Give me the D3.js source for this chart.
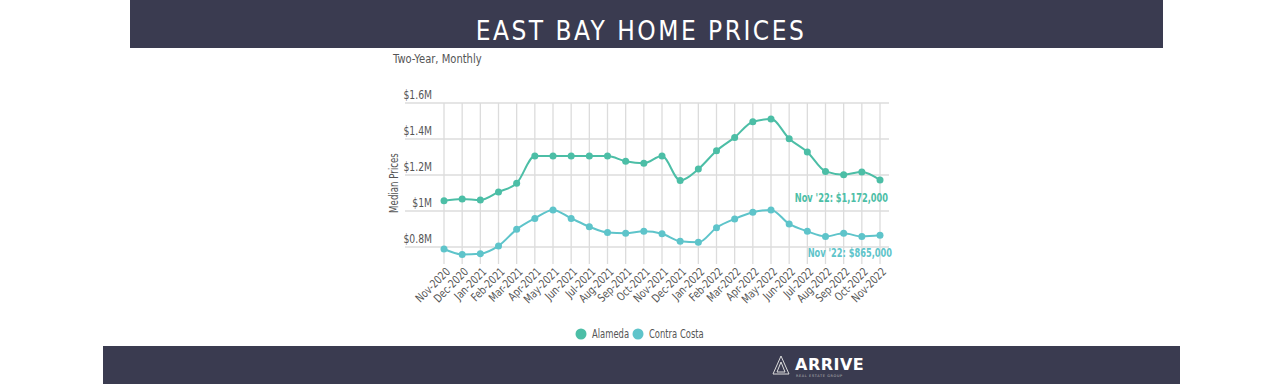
<!doctype html>
<html>
<head>
<meta charset="utf-8">
<script src="https://cdn.jsdelivr.net/npm/d3@7/dist/d3.min.js"></script>
<style>
  body { margin:0; background:#fff; }
  svg text { font-family:"DejaVu Sans",sans-serif; }
</style>
</head>
<body>
<svg id="chart" width="1280" height="384"></svg>
<script>
var months = ["Nov-2020","Dec-2020","Jan-2021","Feb-2021","Mar-2021","Apr-2021","May-2021","Jun-2021",
              "Jul-2021","Aug-2021","Sep-2021","Oct-2021","Nov-2021","Dec-2021","Jan-2022","Feb-2022",
              "Mar-2022","Apr-2022","May-2022","Jun-2022","Jul-2022","Aug-2022","Sep-2022","Oct-2022","Nov-2022"];
var alameda = [1057000,1067000,1061000,1106000,1154000,1305000,1305000,1305000,1305000,1305000,1276000,1265000,
               1305000,1170000,1233000,1335000,1409000,1496000,1511000,1402000,1328000,1220000,1202000,1217000,1172000];
var contraCosta = [789000,759000,763000,806000,898000,959000,1006000,959000,913000,880000,876000,887000,
                   874000,832000,826000,907000,956000,993000,1006000,928000,887000,859000,876000,859000,865000];
var yTicks = [800000,1000000,1200000,1400000,1600000];
var yTickLabels = ["$0.8M","$1M","$1.2M","$1.4M","$1.6M"];
var seriesNames = ["Alameda","Contra Costa"];
var colors = ["#4cbea6","#5ec4ca"];
var endLabels = ["Nov '22: $1,172,000","Nov '22: $865,000"];

// squeeze DejaVu glyphs to look like the narrow font of the original
function squeeze(sel, f){
  sel.each(function(){
    var w = this.getComputedTextLength();
    d3.select(this).attr("textLength", w*f).attr("lengthAdjust","spacingAndGlyphs");
  });
}

var svg = d3.select("#chart");
var dark = "#3a3b50";

// header
svg.append("rect").attr("x",130).attr("y",0).attr("width",1033).attr("height",48).attr("fill",dark);
svg.append("text").attr("x",641).attr("y",40).attr("text-anchor","middle")
   .attr("fill","#fff").style("font-family","'DejaVu Sans Condensed',sans-serif")
   .style("font-size","26px").style("letter-spacing","2.5px")
   .text("EAST BAY HOME PRICES");

// footer
svg.append("rect").attr("x",103).attr("y",346).attr("width",1077).attr("height",38).attr("fill",dark);
var logo = svg.append("g").attr("transform","translate(773,356)");
logo.append("path").attr("d","M8,0 L0,18 L16,18 Z M8,6 L4,16 L12,16 Z").attr("fill","none")
    .attr("stroke","#ddd").attr("stroke-width",1);
logo.append("text").attr("x",22).attr("y",14).attr("fill","#fff")
    .style("font-weight","bold").style("font-size","16px")
    .style("letter-spacing","0.5px").text("ARRIVE");
logo.append("text").attr("x",23).attr("y",21).attr("fill","#bbb")
    .style("font-size","3.5px").style("letter-spacing","0.6px")
    .text("REAL ESTATE GROUP");

var sub = svg.append("text").attr("x",393).attr("y",63).attr("fill","#555").style("font-size","12px").text("Two-Year, Monthly");
squeeze(sub, 0.83);

// scales
var x = d3.scalePoint().domain(months).range([444,880]);
var y = d3.scaleLinear().domain([800000,1600000]).range([247,103]);
var gridLeft = 405, gridRight = 889, gridBottom = 264;

var g = svg.append("g");
g.selectAll("line.v").data(months).enter().append("line")
 .attr("x1",d=>x(d)).attr("x2",d=>x(d)).attr("y1",y(1600000)).attr("y2",gridBottom)
 .attr("stroke","#dcdcdc").attr("stroke-width",1.3);
g.selectAll("line.h").data(yTicks).enter().append("line")
 .attr("x1",gridLeft).attr("x2",gridRight).attr("y1",d=>y(d)).attr("y2",d=>y(d))
 .attr("stroke","#dcdcdc").attr("stroke-width",1.5);

// y axis labels
var yaxis = d3.axisLeft(y).tickValues(yTicks).tickFormat((d,i)=>yTickLabels[i]).tickSize(0).tickPadding(0);
var ya = svg.append("g").attr("transform","translate(432,0)").call(yaxis);
ya.select(".domain").remove();
ya.selectAll("text").attr("fill","#555").attr("dy","-0.4em").style("font-size","12.5px")
  .style("font-family","'DejaVu Sans',sans-serif");
squeeze(ya.selectAll("text"), 0.74);

var yt = svg.append("text").attr("transform","translate(398,183) rotate(-90)").attr("text-anchor","middle")
   .attr("fill","#555").style("font-size","12px").text("Median Prices");
squeeze(yt, 0.72);

// x axis labels
var xaxis = d3.axisBottom(x).tickSize(0).tickPadding(0);
var xa = svg.append("g").attr("transform","translate(0,270)").call(xaxis);
xa.select(".domain").remove();
xa.selectAll("text").attr("fill","#555").style("font-size","11.5px")
  .style("font-family","'DejaVu Sans',sans-serif")
  .attr("text-anchor","end").attr("dy","0.3em")
  .attr("transform","translate(4,0) rotate(-45)");
squeeze(xa.selectAll("text"), 0.78);

// lines
var data = [alameda, contraCosta];
var line = d3.line().curve(d3.curveMonotoneX).x((d,i)=>x(months[i])).y(d=>y(d));
data.forEach(function(vals, s){
  svg.append("path").datum(vals).attr("d",line).attr("fill","none")
     .attr("stroke",colors[s]).attr("stroke-width",2);
  svg.selectAll("circle.s"+s).data(vals).enter().append("circle")
     .attr("cx",(d,i)=>x(months[i])).attr("cy",d=>y(d)).attr("r",3.5).attr("fill",colors[s]);
});

// end labels
var e1 = svg.append("text").attr("x",888).attr("y",y(alameda[24])+22).attr("text-anchor","end")
   .attr("fill",colors[0]).style("font-weight","bold").style("font-size","12.5px").text(endLabels[0]);
var e2 = svg.append("text").attr("x",892).attr("y",y(contraCosta[24])+22).attr("text-anchor","end")
   .attr("fill",colors[1]).style("font-weight","bold").style("font-size","12.5px").text(endLabels[1]);
squeeze(e1, 0.66);
squeeze(e2, 0.66);

// legend
var lx = [581,638];
seriesNames.forEach(function(n,i){
  svg.append("circle").attr("cx",lx[i]).attr("cy",334).attr("r",5.5).attr("fill",colors[i]);
  var t = svg.append("text").attr("x",lx[i]+11).attr("y",338).attr("fill","#555").style("font-size","12px").text(n);
  squeeze(t, 0.7);
});
</script>
</body>
</html>
